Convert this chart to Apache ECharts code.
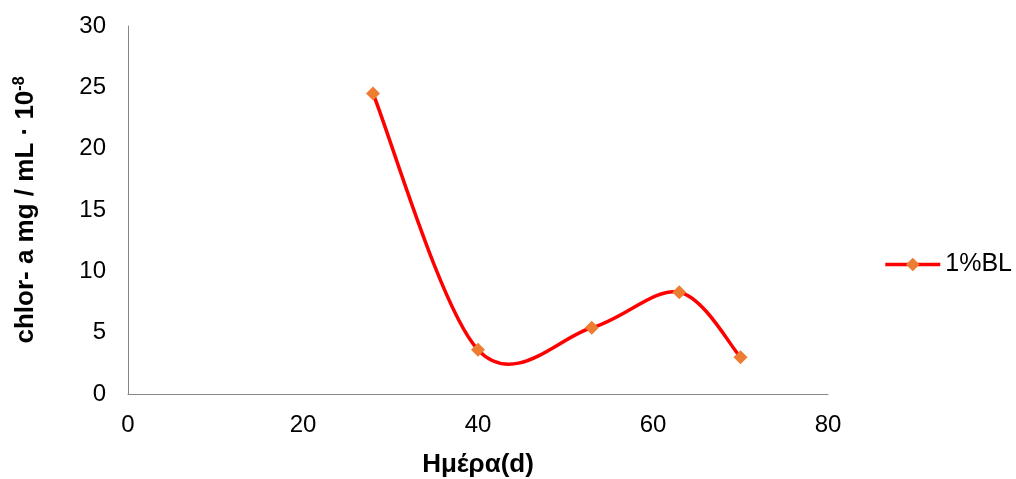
<!DOCTYPE html>
<html>
<head>
<meta charset="utf-8">
<script src="https://cdn.jsdelivr.net/npm/echarts@6/dist/echarts.min.js"></script>
<style>html,body{margin:0;padding:0;background:#fff}#c{width:1016px;height:479px}</style>
</head>
<body>
<div id="c"></div>
<script>
const days = [28, 40, 53, 63, 70];
const chlor = [24.5, 3.6, 5.4, 8.3, 3.0];
const seriesName = '1%BL';
const xName = 'Ημέρα(d)';
const yNameMain = 'chlor- a mg / mL · 10';
const yNameSup = '-8';

const chart = echarts.init(document.getElementById('c'));
const font = '"Liberation Sans", Arial, sans-serif';

// Excel-style smoothed curve: cubic Bezier through the data points (converted with api.coord)
function renderCurve(params, api) {
  if (params.dataIndex !== 0) return null;
  const P = days.map((d, i) => api.coord([d, chlor[i]]));
  const n = P.length;
  let path = 'M' + P[0][0] + ' ' + P[0][1];
  for (let i = 0; i < n - 1; i++) {
    const p0 = P[Math.max(i - 1, 0)], p1 = P[i], p2 = P[i + 1], p3 = P[Math.min(i + 2, n - 1)];
    const c1 = [p1[0] + (p2[0] - p0[0]) / 6, p1[1] + (p2[1] - p0[1]) / 6];
    const c2 = [p2[0] - (p3[0] - p1[0]) / 6, p2[1] - (p3[1] - p1[1]) / 6];
    path += ' C' + c1[0] + ' ' + c1[1] + ' ' + c2[0] + ' ' + c2[1] + ' ' + p2[0] + ' ' + p2[1];
  }
  return {
    type: 'path',
    shape: { pathData: path },
    style: { fill: null, stroke: '#FF0000', lineWidth: 3.5, lineJoin: 'round', lineCap: 'round' }
  };
}

chart.setOption({
  animation: false,
  textStyle: { fontFamily: font },
  grid: { left: 128, right: 188, top: 26, bottom: 85, containLabel: false, outerBoundsMode: 'none' },
  legend: {
    right: -1, top: 247, orient: 'vertical',
    itemWidth: 55, itemHeight: 17, itemGap: 5,
    lineStyle: { color: '#FF0000', width: 3.5, opacity: 1 },
    textStyle: { fontSize: 25, color: '#000', fontFamily: font },
    data: [seriesName]
  },
  xAxis: {
    type: 'value', min: 0, max: 80, interval: 20,
    name: xName, nameLocation: 'middle', nameGap: 58,
    nameTextStyle: { fontSize: 26, fontWeight: 'bold', color: '#000', fontFamily: font },
    axisLine: { show: true, lineStyle: { color: '#868686', width: 1 } },
    axisTick: { show: false },
    splitLine: { show: false },
    axisLabel: { fontSize: 24, color: '#000', margin: 19, fontFamily: font }
  },
  yAxis: {
    type: 'value', min: 0, max: 30, interval: 5,
    name: '{a|' + yNameMain + '}{s|' + yNameSup + '}', nameLocation: 'middle', nameGap: 88, nameRotate: 90,
    nameTextStyle: {
      rich: {
        a: { fontSize: 26, fontWeight: 'bold', color: '#000', fontFamily: font },
        s: { fontSize: 16, fontWeight: 'bold', color: '#000', fontFamily: font, padding: [0, 0, 12, 0] }
      }
    },
    axisLine: { show: true, lineStyle: { color: '#868686', width: 1 } },
    axisTick: { show: false },
    splitLine: { show: false },
    axisLabel: { fontSize: 24, color: '#000', margin: 22, fontFamily: font }
  },
  series: [
    {
      type: 'custom', name: 'curve', z: 2, silent: true,
      data: [[days[0], chlor[0]]],
      renderItem: renderCurve
    },
    {
      name: seriesName, type: 'line', z: 3,
      data: days.map((d, i) => [d, chlor[i]]),
      symbol: 'diamond', symbolSize: 14,
      itemStyle: { color: '#ED7D31' },
      lineStyle: { color: '#FF0000', width: 3.5, opacity: 0 }
    }
  ]
});
</script>
</body>
</html>
